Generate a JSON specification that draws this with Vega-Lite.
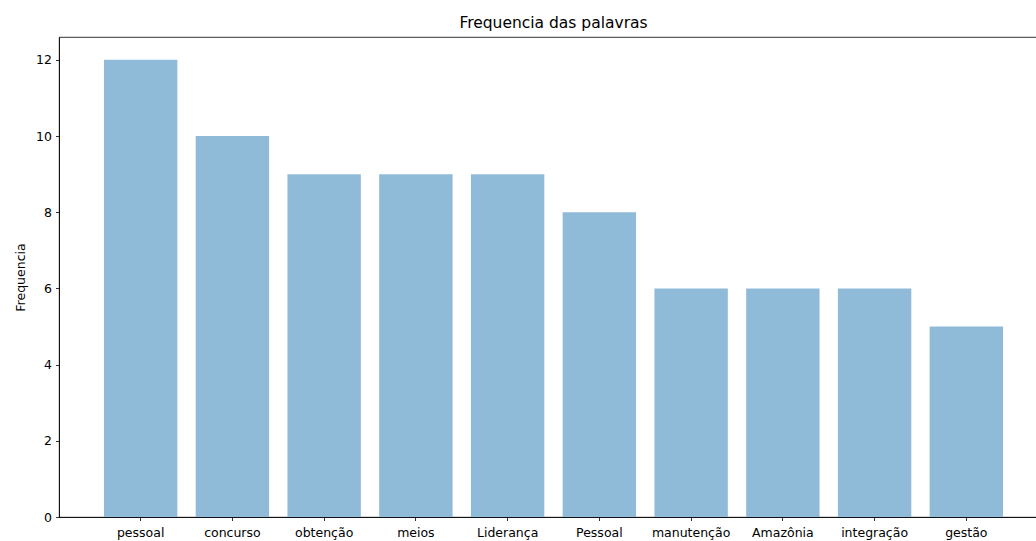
{
  "$schema": "https://vega.github.io/schema/vega-lite/v6.json",
  "width": 989,
  "height": 480,
  "autosize": {"type": "none"},
  "padding": {"left": 59, "top": 37, "right": 0, "bottom": 24},
  "background": "white",
  "title": {
    "text": "Frequencia das palavras",
    "font": "DejaVu Sans",
    "fontSize": 15.5,
    "fontWeight": "normal",
    "color": "#000",
    "anchor": "middle",
    "offset": 6
  },
  "config": {
    "view": {"stroke": "#000", "strokeWidth": 0.8},
    "axis": {
      "domainColor": "#000",
      "domainWidth": 0.8,
      "tickColor": "#000",
      "tickWidth": 0.8,
      "tickSize": 3.5,
      "labelFont": "DejaVu Sans",
      "labelFontSize": 12.5,
      "labelColor": "#000",
      "titleFont": "DejaVu Sans",
      "titleFontSize": 12.5,
      "titleFontWeight": "normal",
      "titleColor": "#000",
      "grid": false
    }
  },
  "data": {
    "values": [
      {"palavra": "pessoal", "freq": 12},
      {"palavra": "concurso", "freq": 10},
      {"palavra": "obtenção", "freq": 9},
      {"palavra": "meios", "freq": 9},
      {"palavra": "Liderança", "freq": 9},
      {"palavra": "Pessoal", "freq": 8},
      {"palavra": "manutenção", "freq": 6},
      {"palavra": "Amazônia", "freq": 6},
      {"palavra": "integração", "freq": 6},
      {"palavra": "gestão", "freq": 5}
    ]
  },
  "mark": {"type": "bar", "color": "#8fbbd9"},
  "encoding": {
    "x": {
      "field": "palavra",
      "type": "nominal",
      "sort": null,
      "scale": {"paddingInner": 0.2, "paddingOuter": 0.49},
      "axis": {"title": null, "labelAngle": 0, "labelPadding": 5.5}
    },
    "y": {
      "field": "freq",
      "type": "quantitative",
      "scale": {"domain": [0, 12.6], "nice": false, "zero": true},
      "axis": {"title": "Frequencia", "values": [0, 2, 4, 6, 8, 10, 12], "labelPadding": 4, "titlePadding": 8}
    }
  }
}
